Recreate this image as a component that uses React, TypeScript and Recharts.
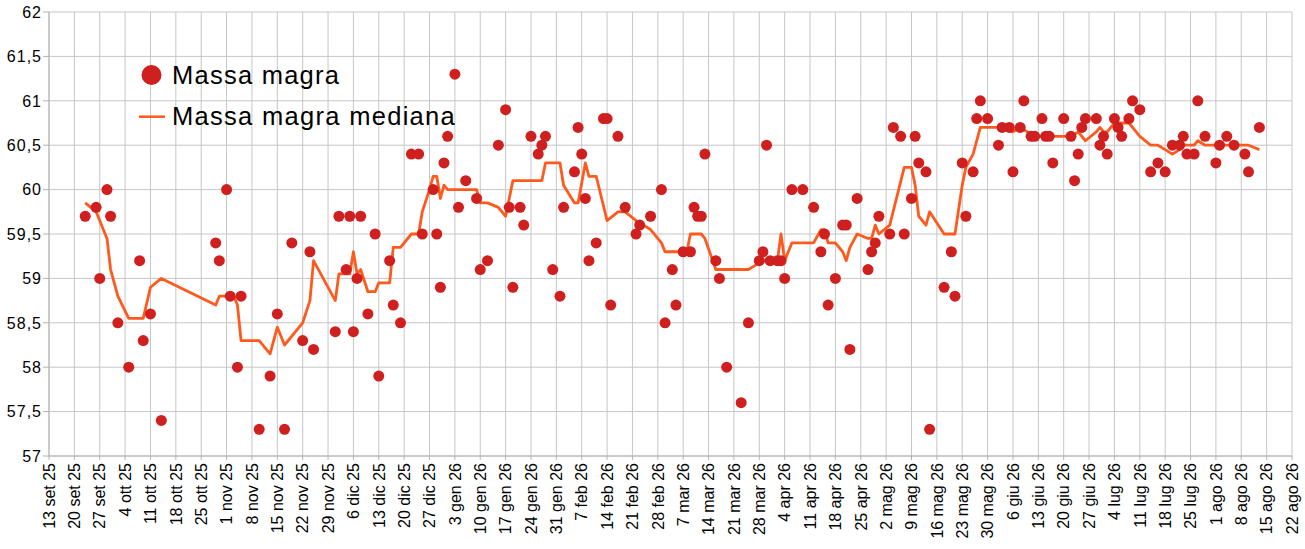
import React from 'react';
import { ComposedChart, Scatter, Line, XAxis, YAxis, CartesianGrid, Legend } from 'recharts';

const START = '2025-09-13';

const xTickLabels = [
  '13 set 25', '20 set 25', '27 set 25', '4 ott 25', '11 ott 25', '18 ott 25', '25 ott 25',
  '1 nov 25', '8 nov 25', '15 nov 25', '22 nov 25', '29 nov 25', '6 dic 25', '13 dic 25',
  '20 dic 25', '27 dic 25', '3 gen 26', '10 gen 26', '17 gen 26', '24 gen 26', '31 gen 26',
  '7 feb 26', '14 feb 26', '21 feb 26', '28 feb 26', '7 mar 26', '14 mar 26', '21 mar 26',
  '28 mar 26', '4 apr 26', '11 apr 26', '18 apr 26', '25 apr 26', '2 mag 26', '9 mag 26',
  '16 mag 26', '23 mag 26', '30 mag 26', '6 giu 26', '13 giu 26', '20 giu 26', '27 giu 26',
  '4 lug 26', '11 lug 26', '18 lug 26', '25 lug 26', '1 ago 26', '8 ago 26', '15 ago 26',
  '22 ago 26',
];

const yTicks = [57, 57.5, 58, 58.5, 59, 59.5, 60, 60.5, 61, 61.5, 62];

const massaDates = [
  '2025-09-23', '2025-09-26', '2025-09-27', '2025-09-29', '2025-09-30', '2025-10-02', '2025-10-05',
  '2025-10-08', '2025-10-09', '2025-10-11', '2025-10-14', '2025-10-29', '2025-10-30', '2025-11-01',
  '2025-11-02', '2025-11-04', '2025-11-05', '2025-11-10', '2025-11-13', '2025-11-15', '2025-11-17',
  '2025-11-19', '2025-11-22', '2025-11-24', '2025-11-25', '2025-12-01', '2025-12-02', '2025-12-04',
  '2025-12-05', '2025-12-06', '2025-12-07', '2025-12-08', '2025-12-10', '2025-12-12', '2025-12-13',
  '2025-12-16', '2025-12-17', '2025-12-19', '2025-12-22', '2025-12-24', '2025-12-25', '2025-12-28',
  '2025-12-29', '2025-12-30', '2025-12-31', '2026-01-01', '2026-01-03', '2026-01-04', '2026-01-06',
  '2026-01-09', '2026-01-10', '2026-01-12', '2026-01-15', '2026-01-17', '2026-01-18', '2026-01-19',
  '2026-01-21', '2026-01-22', '2026-01-24', '2026-01-26', '2026-01-27', '2026-01-28', '2026-01-30',
  '2026-02-01', '2026-02-02', '2026-02-05', '2026-02-06', '2026-02-07', '2026-02-08', '2026-02-09',
  '2026-02-11', '2026-02-13', '2026-02-14', '2026-02-15', '2026-02-17', '2026-02-19', '2026-02-22',
  '2026-02-23', '2026-02-26', '2026-03-01', '2026-03-02', '2026-03-04', '2026-03-05', '2026-03-07',
  '2026-03-09', '2026-03-10', '2026-03-11', '2026-03-12', '2026-03-13', '2026-03-16', '2026-03-17',
  '2026-03-19', '2026-03-23', '2026-03-25', '2026-03-28', '2026-03-29', '2026-03-30', '2026-03-31',
  '2026-04-02', '2026-04-03', '2026-04-04', '2026-04-06', '2026-04-09', '2026-04-12', '2026-04-14',
  '2026-04-15', '2026-04-16', '2026-04-18', '2026-04-20', '2026-04-21', '2026-04-22', '2026-04-24',
  '2026-04-27', '2026-04-28', '2026-04-29', '2026-04-30', '2026-05-03', '2026-05-04', '2026-05-06',
  '2026-05-07', '2026-05-09', '2026-05-10', '2026-05-11', '2026-05-13', '2026-05-14', '2026-05-18',
  '2026-05-20', '2026-05-21', '2026-05-23', '2026-05-24', '2026-05-26', '2026-05-27', '2026-05-28',
  '2026-05-30', '2026-06-02', '2026-06-03', '2026-06-05', '2026-06-06', '2026-06-08', '2026-06-09',
  '2026-06-11', '2026-06-12', '2026-06-14', '2026-06-15', '2026-06-16', '2026-06-17', '2026-06-20',
  '2026-06-22', '2026-06-23', '2026-06-24', '2026-06-25', '2026-06-26', '2026-06-29', '2026-06-30',
  '2026-07-01', '2026-07-02', '2026-07-04', '2026-07-05', '2026-07-06', '2026-07-08', '2026-07-09',
  '2026-07-11', '2026-07-14', '2026-07-16', '2026-07-18', '2026-07-20', '2026-07-22', '2026-07-23',
  '2026-07-24', '2026-07-26', '2026-07-27', '2026-07-29', '2026-08-01', '2026-08-02', '2026-08-04',
  '2026-08-06', '2026-08-09', '2026-08-10', '2026-08-13',
];

const massaValues = [
  59.7, 59.8, 59.0, 60.0, 59.7, 58.5, 58.0,
  59.2, 58.3, 58.6, 57.4, 59.4, 59.2, 60.0,
  58.8, 58.0, 58.8, 57.3, 57.9, 58.6, 57.3,
  59.4, 58.3, 59.3, 58.2, 58.4, 59.7, 59.1,
  59.7, 58.4, 59.0, 59.7, 58.6, 59.5, 57.9,
  59.2, 58.7, 58.5, 60.4, 60.4, 59.5, 60.0,
  59.5, 58.9, 60.3, 60.6, 61.3, 59.8, 60.1,
  59.9, 59.1, 59.2, 60.5, 60.9, 59.8, 58.9,
  59.8, 59.6, 60.6, 60.4, 60.5, 60.6, 59.1,
  58.8, 59.8, 60.2, 60.7, 60.4, 59.9, 59.2,
  59.4, 60.8, 60.8, 58.7, 60.6, 59.8, 59.5,
  59.6, 59.7, 60.0, 58.5, 59.1, 58.7, 59.3,
  59.3, 59.8, 59.7, 59.7, 60.4, 59.2, 59.0,
  58.0, 57.6, 58.5, 59.2, 59.3, 60.5, 59.2,
  59.2, 59.2, 59.0, 60.0, 60.0, 59.8, 59.3,
  59.5, 58.7, 59.0, 59.6, 59.6, 58.2, 59.9,
  59.1, 59.3, 59.4, 59.7, 59.5, 60.7, 60.6,
  59.5, 59.9, 60.6, 60.3, 60.2, 57.3, 58.9,
  59.3, 58.8, 60.3, 59.7, 60.2, 60.8, 61.0,
  60.8, 60.5, 60.7, 60.7, 60.2, 60.7, 61.0,
  60.6, 60.6, 60.8, 60.6, 60.6, 60.3, 60.8,
  60.6, 60.1, 60.4, 60.7, 60.8, 60.8, 60.5,
  60.6, 60.4, 60.8, 60.7, 60.6, 60.8, 61.0,
  60.9, 60.2, 60.3, 60.2, 60.5, 60.5, 60.6,
  60.4, 60.4, 61.0, 60.6, 60.3, 60.5, 60.6,
  60.5, 60.4, 60.2, 60.7,
];

const medianaDates = [
  '2025-09-23', '2025-09-26', '2025-09-29', '2025-09-30', '2025-10-01', '2025-10-02', '2025-10-05',
  '2025-10-09', '2025-10-11', '2025-10-14', '2025-10-29', '2025-10-30', '2025-11-03', '2025-11-04',
  '2025-11-05', '2025-11-10', '2025-11-13', '2025-11-15', '2025-11-17', '2025-11-22', '2025-11-24',
  '2025-11-25', '2025-12-01', '2025-12-02', '2025-12-05', '2025-12-06', '2025-12-07', '2025-12-08',
  '2025-12-10', '2025-12-12', '2025-12-13', '2025-12-16', '2025-12-17', '2025-12-19', '2025-12-22',
  '2025-12-24', '2025-12-25', '2025-12-27', '2025-12-28', '2025-12-29', '2025-12-30', '2025-12-31',
  '2026-01-01', '2026-01-09', '2026-01-10', '2026-01-12', '2026-01-15', '2026-01-17', '2026-01-19',
  '2026-01-27', '2026-01-28', '2026-02-01', '2026-02-02', '2026-02-05', '2026-02-06', '2026-02-08',
  '2026-02-09', '2026-02-11', '2026-02-14', '2026-02-17', '2026-02-19', '2026-02-22', '2026-02-26',
  '2026-03-01', '2026-03-02', '2026-03-08', '2026-03-09', '2026-03-12', '2026-03-13', '2026-03-16',
  '2026-03-25', '2026-03-27', '2026-03-28', '2026-04-02', '2026-04-03', '2026-04-04', '2026-04-06',
  '2026-04-12', '2026-04-14', '2026-04-15', '2026-04-16', '2026-04-18', '2026-04-20', '2026-04-21',
  '2026-04-22', '2026-04-24', '2026-04-27', '2026-04-28', '2026-04-29', '2026-04-30', '2026-05-03',
  '2026-05-07', '2026-05-09', '2026-05-10', '2026-05-11', '2026-05-13', '2026-05-14', '2026-05-18',
  '2026-05-21', '2026-05-23', '2026-05-24', '2026-05-26', '2026-05-28', '2026-06-02', '2026-06-06',
  '2026-06-08', '2026-06-10', '2026-06-11', '2026-06-22', '2026-06-24', '2026-06-26', '2026-06-29',
  '2026-06-30', '2026-07-01', '2026-07-02', '2026-07-04', '2026-07-08', '2026-07-09', '2026-07-11',
  '2026-07-14', '2026-07-16', '2026-07-18', '2026-07-20', '2026-07-22', '2026-07-23', '2026-07-26',
  '2026-07-27', '2026-07-29', '2026-08-10', '2026-08-13',
];

const medianaValues = [
  59.85, 59.75, 59.45, 59.1, 58.95, 58.8, 58.55,
  58.55, 58.9, 59.0, 58.7, 58.8, 58.8, 58.7,
  58.3, 58.3, 58.15, 58.45, 58.25, 58.5, 58.75,
  59.2, 58.75, 59.05, 59.05, 59.3, 59.05, 59.1,
  58.85, 58.85, 58.95, 58.95, 59.35, 59.35, 59.5,
  59.5, 59.75, 60.0, 60.15, 60.15, 59.9, 60.05,
  60.0, 60.0, 59.85, 59.85, 59.8, 59.7, 60.1,
  60.1, 60.3, 60.3, 60.05, 59.85, 59.85, 60.3,
  60.15, 60.15, 59.65, 59.75, 59.75, 59.65, 59.55,
  59.4, 59.3, 59.3, 59.5, 59.5, 59.45, 59.1,
  59.1, 59.15, 59.2, 59.2, 59.5, 59.2, 59.4,
  59.4, 59.55, 59.55, 59.4, 59.4, 59.3, 59.2,
  59.35, 59.5, 59.45, 59.45, 59.6, 59.5, 59.6,
  60.25, 60.25, 60.05, 59.7, 59.6, 59.75, 59.5,
  59.5, 60.05, 60.25, 60.4, 60.7, 60.7, 60.65,
  60.7, 60.65, 60.6, 60.6, 60.65, 60.55, 60.65,
  60.7, 60.65, 60.65, 60.75, 60.75, 60.7, 60.6,
  60.5, 60.5, 60.45, 60.4, 60.45, 60.5, 60.5,
  60.55, 60.5, 60.5, 60.45,
];

const DAY_MS = 86400000;
const dayOf = (d: string) => Math.round((Date.parse(d) - Date.parse(START)) / DAY_MS);

const massaData = massaDates.map((d, i) => ({ t: dayOf(d), v: massaValues[i] }));
const medianaData = medianaDates.map((d, i) => ({ t: dayOf(d), m: medianaValues[i] }));
const xTicks = xTickLabels.map((_, i) => i * 7);

const FONT = '"Liberation Sans", Arial, Helvetica, sans-serif';
const DOT_COLOR = '#cf1f1f';
const LINE_COLOR = '#ff5a1e';
const GRID_COLOR = '#c6c6c6';

const fmtY = (v: number) => String(v).replace('.', ',');

const XTick = (props: any) => {
  const { x, y, payload } = props;
  const idx = Math.round(payload.value / 7);
  return (
    <text
      x={x}
      y={y}
      transform={`rotate(-90, ${x}, ${y})`}
      textAnchor="end"
      dy="0.36em"
      fontSize={16}
      fontFamily={FONT}
      fill="#000"
    >
      {xTickLabels[idx]}
    </text>
  );
};

const YTick = (props: any) => {
  const { x, y, payload } = props;
  return (
    <text
      x={x}
      y={y}
      textAnchor="end"
      dy="0.36em"
      fontSize={16}
      letterSpacing={1}
      fontFamily={FONT}
      fill="#000"
    >
      {fmtY(payload.value)}
    </text>
  );
};

const DotShape = (props: any) => {
  const { cx, cy } = props;
  if (cx == null || cy == null) return null;
  return <circle cx={cx} cy={cy} r={5.5} fill={DOT_COLOR} />;
};

const LegendContent = () => (
  <svg width={560} height={140} style={{ display: 'block', overflow: 'visible' }}>
    <circle cx={151.5} cy={75} r={10} fill={DOT_COLOR} />
    <text x={172} y={83.5} fontSize={25.5} letterSpacing={1.25} fontFamily={FONT} fill="#000">
      Massa magra
    </text>
    <line x1={139} y1={116.7} x2={165} y2={116.7} stroke={LINE_COLOR} strokeWidth={2.5} />
    <text x={172} y={125} fontSize={25.5} letterSpacing={1.3} fontFamily={FONT} fill="#000">
      Massa magra mediana
    </text>
  </svg>
);

export default function App() {
  return (
    <div style={{ position: 'absolute', left: 0, top: 0, width: 1305, height: 549, background: '#fff' }}>
      <ComposedChart
        width={1305}
        height={549}
        margin={{ top: 12, right: 13, bottom: 0, left: 0 }}
        style={{ fontFamily: FONT }}
      >
        <CartesianGrid stroke={GRID_COLOR} strokeWidth={1} />
        <XAxis
          type="number"
          dataKey="t"
          domain={[0, 343]}
          ticks={xTicks}
          interval={0}
          height={93}
          tick={<XTick />}
          tickSize={4}
          tickMargin={3}
          axisLine={{ stroke: '#b3b3b3' }}
          tickLine={{ stroke: '#b3b3b3' }}
          allowDataOverflow
        />
        <YAxis
          type="number"
          domain={[57, 62]}
          ticks={yTicks}
          interval={0}
          width={49}
          tick={<YTick />}
          tickSize={6}
          tickMargin={1}
          axisLine={{ stroke: '#b3b3b3' }}
          tickLine={{ stroke: '#b3b3b3' }}
          allowDataOverflow
        />
        <Legend
          layout="vertical"
          align="center"
          verticalAlign="middle"
          wrapperStyle={{ left: 0, top: 0, width: 560, height: 140, overflow: 'visible' }}
          content={<LegendContent />}
        />
        <Scatter
          name="Massa magra"
          data={massaData}
          dataKey="v"
          fill={DOT_COLOR}
          shape={<DotShape />}
          isAnimationActive={false}
        />
        <Line
          name="Massa magra mediana"
          data={medianaData}
          dataKey="m"
          type="linear"
          stroke={LINE_COLOR}
          strokeWidth={2.8}
          dot={false}
          activeDot={false}
          isAnimationActive={false}
          strokeLinejoin="round"
        />
      </ComposedChart>
    </div>
  );
}
